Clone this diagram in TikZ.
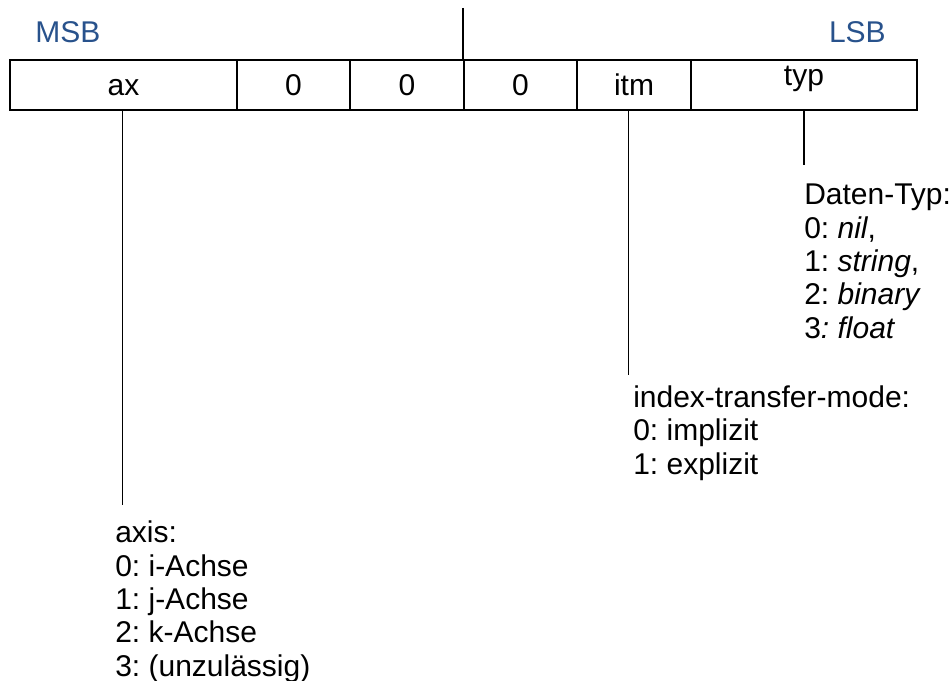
\documentclass[tikz,border=0pt]{standalone}
\usepackage{fontspec}
\setmainfont{Liberation Sans}
\definecolor{bitblue}{RGB}{40,82,140}
\begin{document}
\frenchspacing
\begin{tikzpicture}[x=0.75pt,y=-0.75pt,
  cell/.style={draw, line width=1.5pt, minimum height=37.5pt, inner sep=0pt,
    text height=16.5pt, text depth=0pt,
    anchor=north west, font=\fontsize{22.5pt}{25pt}\selectfont},
  leader/.style={line width=1pt},
  label/.style={anchor=base west, inner sep=0pt, align=left,
    font=\fontsize{22.5pt}{25pt}\selectfont},
  edge/.style={anchor=base, inner sep=0pt, text=bitblue,
    font=\fontsize{22.5pt}{25pt}\selectfont}]
  \useasboundingbox (0,0) rectangle (950,681);
  % register cells, MSB to LSB
  \node[cell, minimum width=170.25pt] (ax) at (9,59) {ax};
  \node[cell, minimum width=84.75pt] (z1) at (236,59) {0};
  \node[cell, minimum width=85.5pt] (z2) at (349,59) {0};
  \node[cell, minimum width=84.75pt] (z3) at (463,59) {0};
  \node[cell, minimum width=85.5pt] (itm) at (576,59) {itm};
  \node[cell, minimum width=169.5pt, text depth=15pt] (typ) at (690,59) {typ};
  % byte boundary marker
  \coordinate (mark) at (463,8);
  \draw[line width=1.2pt] (mark) -- (z3.north west);
  % end labels
  \node[edge, anchor=base west] (msb) at (35,43) {MSB};
  \node[edge, anchor=base east] (lsb) at (886,43) {LSB};
  % field descriptions (anchored at the baseline of their last line)
  \node[label] (typdesc) at (804,338) {Daten-Typ:\\0: \textit{nil},\\1: \textit{string},\\2: \textit{binary}\\3\textit{: float}};
  \node[label] (itmdesc) at (633,474) {index-transfer-mode:\\0: implizit\\1: explizit};
  \node[label] (axdesc) at (115,676) {axis:\\0: i-Achse\\1: j-Achse\\2: k-Achse\\3: (unzulässig)};
  % leader lines
  \coordinate (typend) at (typ.south |- 0,165);
  \coordinate (itmend) at ([xshift=-4]itm.south |- 0,375);
  \coordinate (axend) at ([xshift=-1]ax.south |- 0,505);
  \draw[leader] (typ.south) -- (typend);
  \draw[leader] ([xshift=-4]itm.south) -- (itmend);
  \draw[leader] ([xshift=-1]ax.south) -- (axend);
\end{tikzpicture}
\end{document}
